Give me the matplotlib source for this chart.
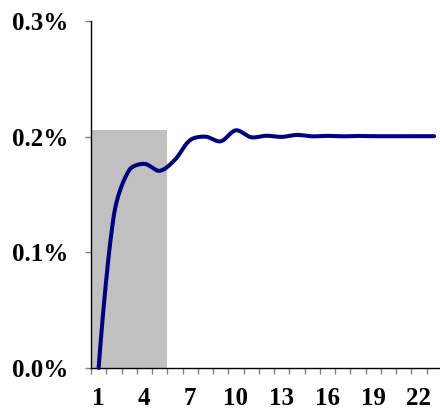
import numpy as np
import matplotlib
matplotlib.use("Agg")
import matplotlib.pyplot as plt
from matplotlib.ticker import FuncFormatter, FixedLocator

# Data (values in percent)
periods = list(range(1, 24))
response = [0.000, 0.132, 0.171, 0.1765, 0.1705, 0.180, 0.197, 0.200, 0.196, 0.2055,
            0.1995, 0.2008, 0.1998, 0.2015, 0.2003, 0.2007, 0.2003, 0.2006, 0.2004,
            0.2004, 0.2004, 0.2004, 0.2004]
shade_periods = [1, 2, 3, 4, 5]
shade_values = [0.206, 0.206, 0.206, 0.206, 0.206]
xtick_labels = ["1", "4", "7", "10", "13", "16", "19", "22"]
ytick_values = [0.0, 0.1, 0.2, 0.3]

# pixel scaling used only for the smoothing shape
SX, SY = 15.25, 1157.0


def smooth(x, y, n=40):
    P = np.column_stack([np.asarray(x, float) * SX, np.asarray(y, float) * SY])
    m = len(P)
    cin = P.copy()
    cout = P.copy()
    for i in range(1, m - 1):
        d = P[i + 1] - P[i - 1]
        lp = np.linalg.norm(P[i] - P[i - 1])
        ln = np.linalg.norm(P[i + 1] - P[i])
        s = lp + ln
        cout[i] = P[i] + d * ln / s / 3.0
        cin[i] = P[i] - d * lp / s / 3.0
    t = np.linspace(0, 1, n, endpoint=False)[:, None]
    pts = []
    for i in range(m - 1):
        p0, c1, c2, p1 = P[i], cout[i], cin[i + 1], P[i + 1]
        seg = (1 - t) ** 3 * p0 + 3 * (1 - t) ** 2 * t * c1 + 3 * (1 - t) * t ** 2 * c2 + t ** 3 * p1
        pts.append(seg)
    pts.append(P[-1:])
    pts = np.vstack(pts)
    return pts[:, 0] / SX, pts[:, 1] / SY


W, H = 440, 411
fig = plt.figure(figsize=(W / 100, H / 100), dpi=100)
ax = fig.add_axes([91 / W, (H - 368) / H, (441.75 - 91) / W, (368 - 21) / H])

ax.bar(shade_periods, shade_values, width=1.0, color="#C0C0C0", edgecolor="none", zorder=1)
sx, sy = smooth(periods, response)
ax.plot(sx, sy, color="#000080", lw=2.9, solid_capstyle="round", zorder=3, clip_on=False)

ax.set_xlim(0.5, 23.5)
ax.set_ylim(0, 0.3)

for s in ["top", "right"]:
    ax.spines[s].set_visible(False)
ax.spines["left"].set_color("black")
ax.spines["bottom"].set_color("black")
ax.spines["left"].set_linewidth(1.0)
ax.spines["bottom"].set_linewidth(1.0)

font = dict(family="Liberation Serif", weight="bold", size=18)

ax.set_yticks(ytick_values)
ax.yaxis.set_major_formatter(FuncFormatter(lambda v, p: f"{v:.1f}%"))
ax.tick_params(axis="y", which="major", length=4.5, width=1, color="#808080", pad=12)

ax.xaxis.set_major_locator(FixedLocator([int(l) for l in xtick_labels]))
ax.set_xticklabels(xtick_labels)
ax.xaxis.set_minor_locator(FixedLocator(np.arange(0.5, 24, 1.0)))
ax.tick_params(axis="x", which="major", length=0, pad=13.5)
ax.tick_params(axis="x", which="minor", length=4.5, width=1, color="#808080")

for lab in ax.get_xticklabels() + ax.get_yticklabels():
    lab.set_fontfamily(font["family"])
    lab.set_fontweight(font["weight"])
    lab.set_fontsize(font["size"])

fig.savefig("out.png", dpi=100)
